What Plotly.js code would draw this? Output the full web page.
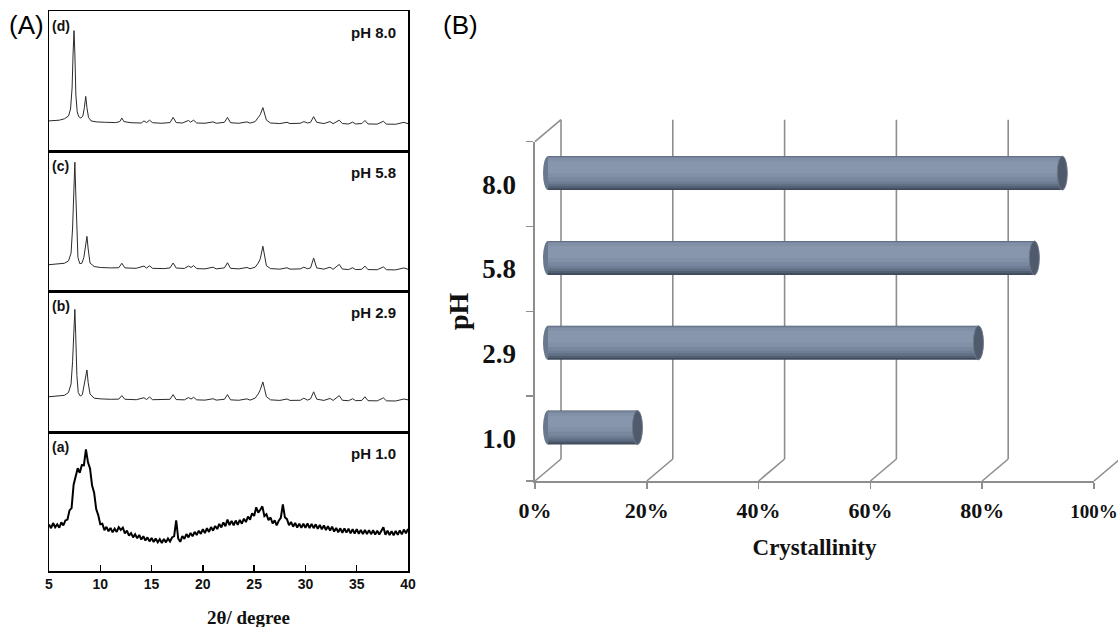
<!DOCTYPE html>
<html>
<head>
<meta charset="utf-8">
<script src="https://cdn.plot.ly/plotly-3.0.1.min.js"></script>
<style>
  html, body { margin: 0; padding: 0; background: #ffffff; overflow: hidden; }
  #chart { width: 1118px; height: 627px; }
</style>
</head>
<body>
<div id="chart"></div>
<script>
// ---------- Panel A: XRD patterns (2θ in degrees, intensity in arbitrary units) ----------
const twoThetaTicks = [5, 10, 15, 20, 25, 30, 35, 40];

// (d) pH 8.0
const theta_d = [5.0,5.5,6.0,6.5,6.9,7.1,7.25,7.35,7.44,7.52,7.62,7.75,7.9,8.1,8.3,8.45,8.58,8.7,8.85,9.1,9.6,10.5,11.5,11.9,12.1,12.3,13.0,14.0,14.26,14.5,14.8,15.1,16.0,16.8,17.1,17.4,18.0,18.6,18.8,19.1,19.4,20.2,21.0,21.3,22.1,22.4,22.7,23.5,24.3,24.6,25.1,25.4,25.6,25.85,26.0,26.2,26.6,27.5,28.2,28.5,29.5,29.85,30.2,30.5,30.8,31.1,31.8,32.4,32.7,33.3,33.6,34.2,34.6,34.9,35.5,35.8,36.1,37.0,37.6,37.9,38.8,39.6,40.0];
const int_d = [21.5,21.8,22,23,25,30,45,70,86,70,40,28,24.5,23.5,25,31,39,31,24,21.5,20.8,20.5,20.3,21,23.5,21,20.2,20,21.5,20.3,22,20.2,19.8,20.3,24,20.3,20,21.8,20.6,22,20,19.8,20.8,19.8,20.5,24,20.2,19.8,20.8,19.9,21,24,26,31,27,22,20,19.6,20.5,19.6,19.8,21,20,20.5,24.5,20.5,19.6,21,19.5,22,19.6,19.3,20.6,19.3,19.6,21.8,19.3,19.2,21.2,19.2,19.1,20.5,19.5];

// (c) pH 5.8
const theta_c = [5.0,5.5,6.0,6.5,6.9,7.15,7.3,7.42,7.52,7.6,7.7,7.82,8.0,8.2,8.4,8.58,8.7,8.82,9.0,9.4,10.0,11.0,11.8,12.1,12.4,13.5,14.26,14.5,14.8,15.1,16.2,16.8,17.1,17.4,18.2,18.6,18.85,19.1,19.4,20.2,21.0,21.3,22.1,22.4,22.7,23.5,24.3,24.6,25.1,25.4,25.6,25.85,26.0,26.2,26.6,27.5,28.2,28.5,29.5,29.85,30.2,30.5,30.8,31.1,31.8,32.4,32.7,33.3,33.6,34.2,34.6,34.9,35.5,35.8,36.1,37.0,37.6,37.9,38.8,39.6,40.0];
const int_c = [18.8,19,19.2,19.8,21.5,27,45,75,92,72,40,24,19.5,19.8,24,33,39,30,20,17.5,16.8,16.5,16.6,19.8,16.5,16.2,17.8,16.4,18,16.2,16,16.5,20,16.4,16.1,17.8,16.8,18.2,16,15.8,17,15.8,16.5,20.2,16.2,15.8,16.8,15.9,17,20,23,32,27,18,16,15.6,16.6,15.6,15.8,17,15.9,16.5,23.5,16.5,15.6,17,15.5,19,15.7,15.3,16.6,15.3,15.5,17.8,15.3,15.2,17.2,15.2,15.1,16.5,15.5];

// (b) pH 2.9
const theta_b = [5.0,5.5,6.0,6.5,6.9,7.15,7.3,7.42,7.52,7.6,7.72,7.85,8.05,8.25,8.42,8.6,8.7,8.82,9.0,9.4,10.0,11.0,11.8,12.1,12.4,13.5,14.26,14.5,14.8,15.1,16.2,16.8,17.1,17.4,18.2,18.6,18.85,19.1,19.4,20.2,21.0,21.3,22.1,22.4,22.7,23.5,24.3,24.6,25.1,25.4,25.6,25.85,26.0,26.2,26.6,27.5,28.2,28.5,29.5,29.85,30.2,30.5,30.8,31.1,31.8,32.4,32.7,33.3,33.6,34.2,34.6,34.9,35.5,35.8,36.1,37.0,37.6,37.9,38.8,39.6,40.0];
const int_b = [25,25.2,25.5,26,28,34,50,75,87,70,40,28,25.5,26.5,33,42,44,35,27,24,23.5,23.2,23.3,25.8,23.2,22.9,24.3,23,24.8,22.9,22.8,23.2,26.5,23,22.8,24.4,23.4,24.6,22.8,22.6,23.6,22.6,23.2,26.5,22.8,22.5,23.5,22.6,24,27,30,35.5,31,25,22.8,22.4,23.4,22.4,22.5,24,22.6,23.5,28.5,23.3,22.4,23.8,22.4,25.8,22.5,22.2,23.6,22.2,22.4,25,22.2,22.1,24.2,22.1,22,23.4,22.8];

// (a) pH 1.0 (broad, noisy scan)
const theta_a = [5.0,5.2,5.4,5.6,5.8,6.0,6.2,6.4,6.6,6.8,7.0,7.2,7.4,7.6,7.8,8.0,8.2,8.4,8.6,8.8,9.0,9.2,9.4,9.6,9.8,10.0,10.2,10.4,10.6,10.8,11.0,11.2,11.4,11.6,11.8,12.0,12.2,12.4,12.6,12.8,13.0,13.2,13.4,13.6,13.8,14.0,14.2,14.4,14.6,14.8,15.0,15.2,15.4,15.6,15.8,16.0,16.2,16.4,16.6,16.8,17.0,17.2,17.4,17.6,17.8,18.0,18.2,18.4,18.6,18.8,19.0,19.2,19.4,19.6,19.8,20.0,20.2,20.4,20.6,20.8,21.0,21.2,21.4,21.6,21.8,22.0,22.2,22.4,22.6,22.8,23.0,23.2,23.4,23.6,23.8,24.0,24.2,24.4,24.6,24.8,25.0,25.2,25.4,25.6,25.8,26.0,26.2,26.4,26.6,26.8,27.0,27.2,27.4,27.6,27.8,28.0,28.2,28.4,28.6,28.8,29.0,29.2,29.4,29.6,29.8,30.0,30.2,30.4,30.6,30.8,31.0,31.2,31.4,31.6,31.8,32.0,32.2,32.4,32.6,32.8,33.0,33.2,33.4,33.6,33.8,34.0,34.2,34.4,34.6,34.8,35.0,35.2,35.4,35.6,35.8,36.0,36.2,36.4,36.6,36.8,37.0,37.2,37.4,37.6,37.8,38.0,38.2,38.4,38.6,38.8,39.0,39.2,39.4,39.6,39.8,40.0];
const int_a = [33.4,30.8,34.5,31.5,33.6,31.1,35.0,32.8,36.4,37.0,43.6,45.2,62.1,68.0,73.9,70.6,76.2,76.0,87.5,78.2,73.8,61.4,56.3,44.5,40.2,33.6,34.0,29.4,31.8,28.6,31.0,27.8,30.4,28.1,31.5,29.6,31.2,27.0,29.1,25.4,27.3,24.2,26.4,23.5,25.9,22.6,25.0,21.9,24.2,21.3,23.8,20.9,23.4,20.6,22.9,20.2,23.0,20.6,23.4,21.2,24.1,25.0,36.5,23.2,21.0,25.2,23.1,26.6,24.2,27.4,25.0,28.2,25.9,29.0,26.7,30.1,27.3,30.8,28.1,31.6,29.0,32.4,30.2,33.9,31.3,35.0,32.2,37.0,33.0,36.1,32.9,36.3,33.2,36.8,34.0,37.6,35.2,39.2,37.0,41.5,39.6,45.8,42.0,44.1,46.5,39.5,40.8,36.6,38.5,34.2,36.4,32.8,36.2,38.2,48.0,38.6,37.3,32.9,35.3,31.9,34.6,31.3,34.1,31.0,34.0,31.1,34.2,30.9,33.9,30.8,33.6,30.3,33.1,30.0,32.8,29.5,32.3,29.1,31.9,28.4,31.0,27.9,30.7,27.5,30.6,27.6,30.4,27.1,30.0,27.0,30.1,26.8,29.6,26.5,29.5,26.6,29.4,26.5,29.3,26.2,29.0,26.3,29.2,31.5,26.0,29.0,25.9,28.6,25.7,28.9,26.0,29.2,26.4,29.8,27.2,30.2];

const panelLetters = ['(a)', '(b)', '(c)', '(d)'];
const panelPH = ['pH 1.0', 'pH 2.9', 'pH 5.8', 'pH 8.0'];

// ---------- Panel B: crystallinity vs pH ----------
const pHLabels = ['1.0', '2.9', '5.8', '8.0'];
const crystallinity = [16, 77, 87, 92];   // percent
const pctTicks = [0, 20, 40, 60, 80, 100];
// the last label sits at the right page edge, so it is set a little smaller to stay on the page
const pctTickText = ['0%', '20%', '40%', '60%', '80%', '<span style="font-size:19px">100%</span>'];

// ---------- page geometry (pixels) ----------
const W = 1118, H = 627;
const px = v => v / W;
const py = v => 1 - v / H;

// Panel A frame
const A_left = 49, A_right = 408;
const A_rows = [571, 432, 291, 151, 11];   // bottom of (a) ... top of (d)

// Panel B pseudo-3D box
const B_front0 = 535, B_front100 = 1094;   // 0% and 100% on the front floor edge
const B_floor = 481, B_top = 141.7;        // front floor and front top of the side wall
const B_dx = 26, B_dy = 22;                // depth offset of the back wall
const pxPerPct = (B_front100 - B_front0) / 100;
const midShift = 0.5;                      // bars sit half-way into the depth
const B_barPad = 10;                       // room for the rounded near end

const serif = 'Liberation Serif, Times New Roman, serif';
const sans = 'Liberation Sans, Arial, sans-serif';
const gridGray = '#8e8e8e';

const traces = [];

// XRD traces, one subplot per pattern
const patterns = [
  {x: theta_a, y: int_a, color: '#000000', width: 2.0},
  {x: theta_b, y: int_b, color: '#2a2a2a', width: 1.0},
  {x: theta_c, y: int_c, color: '#2a2a2a', width: 1.0},
  {x: theta_d, y: int_d, color: '#2a2a2a', width: 1.0}
];
patterns.forEach((p, i) => {
  const sfx = i === 0 ? '' : String(i + 1);
  traces.push({
    type: 'scatter', mode: 'lines', x: p.x, y: p.y,
    xaxis: 'x' + sfx, yaxis: 'y' + sfx,
    line: {color: p.color, width: p.width, shape: 'linear'},
    hoverinfo: 'skip', showlegend: false
  });
});

// invisible carrier so the front category axis of panel B gets its labels
traces.push({
  type: 'scatter', mode: 'markers', x: crystallinity, y: pHLabels,
  xaxis: 'x5', yaxis: 'y5', marker: {opacity: 0}, hoverinfo: 'skip', showlegend: false
});

// cylinder bars: stacked shading layers of the same value (dark underside to light top)
const barLayers = [
  {color: '#3f4a5b', lo: -0.200, hi: 0.200},
  {color: '#525e72', lo: -0.180, hi: 0.195},
  {color: '#627086', lo: -0.155, hi: 0.195},
  {color: '#6f7d94', lo: -0.125, hi: 0.192},
  {color: '#79879e', lo: -0.095, hi: 0.190},
  {color: '#8290a7', lo: -0.050, hi: 0.175},
  {color: '#8796ac', lo: 0.000, hi: 0.140}
];
barLayers.forEach(l => {
  traces.push({
    type: 'bar', orientation: 'h', x: crystallinity, y: pHLabels,
    xaxis: 'x7', yaxis: 'y7', width: l.hi - l.lo, offset: l.lo,
    marker: {color: l.color, line: {width: 0}},
    hoverinfo: 'skip', showlegend: false
  });
});

// ---------- shapes ----------
const shapes = [];
const lineStyle = {color: gridGray, width: 1.6};
pctTicks.forEach(t => {
  const fx = B_front0 + t * pxPerPct;
  // back-wall gridline
  shapes.push({type: 'line', xref: 'paper', yref: 'paper', layer: 'below',
    x0: px(fx + B_dx), x1: px(fx + B_dx), y0: py(B_floor - B_dy), y1: py(B_top - B_dy), line: lineStyle});
  // floor depth line
  shapes.push({type: 'line', xref: 'paper', yref: 'paper', layer: 'below',
    x0: px(fx), x1: px(fx + B_dx), y0: py(B_floor), y1: py(B_floor - B_dy), line: lineStyle});
});
// top edge of the side wall
shapes.push({type: 'line', xref: 'paper', yref: 'paper', layer: 'below',
  x0: px(B_front0), x1: px(B_front0 + B_dx), y0: py(B_top), y1: py(B_top - B_dy), line: lineStyle});

// rounded near ends and end faces of the cylinders
crystallinity.forEach((v, i) => {
  shapes.push({type: 'circle', xref: 'x7', yref: 'y7', xsizemode: 'pixel', xanchor: 0,
    x0: -5, x1: 5, y0: i - 0.2, y1: i + 0.2, layer: 'below',
    fillcolor: '#6a788e', line: {width: 0}});
  shapes.push({type: 'circle', xref: 'x7', yref: 'y7', xsizemode: 'pixel', xanchor: v,
    x0: -5, x1: 5, y0: i - 0.2, y1: i + 0.2, layer: 'above',
    fillcolor: '#4f5b6c', line: {color: '#6b7789', width: 1}});
});

// ---------- annotations ----------
const annotations = [];
panelLetters.forEach((t, i) => {
  const sfx = i === 0 ? '' : String(i + 1);
  annotations.push({text: '<b>' + t + '</b>', xref: 'x' + sfx + ' domain', yref: 'y' + sfx + ' domain',
    x: 0.004, y: 0.895, xanchor: 'left', yanchor: 'middle', showarrow: false,
    font: {family: sans, size: 14, color: '#111'}});
  annotations.push({text: '<b>' + panelPH[i] + '</b>', xref: 'x' + sfx + ' domain', yref: 'y' + sfx + ' domain',
    x: 0.972, y: 0.845, xanchor: 'right', yanchor: 'middle', showarrow: false,
    font: {family: sans, size: 15, color: '#111'}});
});
annotations.push({text: '(A)', xref: 'paper', yref: 'paper', x: px(7), y: py(25),
  xanchor: 'left', yanchor: 'middle', showarrow: false, font: {family: sans, size: 26, color: '#000'}});
annotations.push({text: '(B)', xref: 'paper', yref: 'paper', x: px(441), y: py(25),
  xanchor: 'left', yanchor: 'middle', showarrow: false, font: {family: sans, size: 26, color: '#000'}});
annotations.push({text: '<b>2θ/ degree</b>', xref: 'paper', yref: 'paper', x: px(248), y: py(617),
  xanchor: 'center', yanchor: 'middle', showarrow: false, font: {family: serif, size: 19, color: '#111'}});

// ---------- axes ----------
const layout = {
  width: W, height: H,
  margin: {l: 0, r: 0, t: 0, b: 0, pad: 0},
  paper_bgcolor: '#ffffff', plot_bgcolor: 'rgba(0,0,0,0)',
  barmode: 'overlay', showlegend: false,
  shapes: shapes, annotations: annotations
};

const frameAxis = {
  range: [5, 40], showline: true, linecolor: '#000', linewidth: 1.5, mirror: true,
  showgrid: false, zeroline: false
};
for (let i = 0; i < 4; i++) {
  const sfx = i === 0 ? '' : String(i + 1);
  const xa = Object.assign({}, frameAxis, {
    domain: [px(A_left), px(A_right)], anchor: 'y' + sfx
  });
  if (i === 0) {
    Object.assign(xa, {
      tickvals: twoThetaTicks, ticks: 'inside', ticklen: 6, tickwidth: 1.5, tickcolor: '#000',
      ticklabelstandoff: 0,
      tickfont: {family: sans, size: 14, color: '#111', weight: 'bold'}
    });
  } else {
    Object.assign(xa, {matches: 'x', ticks: '', showticklabels: false});
  }
  layout['xaxis' + sfx] = xa;
  layout['yaxis' + sfx] = {
    domain: [py(A_rows[i]), py(A_rows[i + 1])], anchor: 'x' + sfx, range: [0, 100],
    showline: true, linecolor: '#000', linewidth: 1.5, mirror: true,
    ticks: '', showticklabels: false, showgrid: false, zeroline: false
  };
}

// panel B: front floor axis with percent labels
layout.xaxis5 = {
  domain: [px(B_front0), px(B_front100)], anchor: 'y5', range: [0, 100],
  tickvals: pctTicks, ticktext: pctTickText, ticks: 'outside', ticklen: 6, tickwidth: 1.5, tickcolor: gridGray,
  showline: true, linecolor: gridGray, linewidth: 2, showgrid: false, zeroline: false,
  ticklabelstandoff: 3, ticklabeloverflow: 'allow',
  tickfont: {family: serif, size: 22, color: '#111', weight: 'bold'},
  title: {text: 'Crystallinity', standoff: 16, font: {family: serif, size: 23, color: '#111', weight: 'bold'}}
};
// panel B: front side-wall axis with pH categories
layout.yaxis5 = {
  domain: [py(B_floor), py(B_top)], anchor: 'x5', type: 'category',
  categoryorder: 'array', categoryarray: pHLabels, range: [-0.5, pHLabels.length - 0.5],
  tickson: 'boundaries', ticks: 'outside', ticklen: 7, tickwidth: 1.5, tickcolor: gridGray,
  showline: true, linecolor: gridGray, linewidth: 1.6, showgrid: false, zeroline: false,
  ticklabelstandoff: 12,
  tickfont: {family: serif, size: 27, color: '#111', weight: 'bold'},
  title: {text: 'pH', standoff: 5, font: {family: serif, size: 28, color: '#111', weight: 'bold'}}
};
// panel B: mid-depth plane that carries the cylinders
layout.xaxis7 = {
  domain: [px(B_front0 + B_dx * midShift - B_barPad), px(B_front100 + B_dx * midShift)],
  anchor: 'y7', range: [-B_barPad / pxPerPct, 100], visible: false
};
layout.yaxis7 = {
  domain: [py(B_floor - B_dy * midShift), py(B_top - B_dy * midShift)], anchor: 'x7',
  type: 'category', categoryorder: 'array', categoryarray: pHLabels,
  range: [-0.5, pHLabels.length - 0.5], visible: false
};

Plotly.newPlot('chart', traces, layout, {staticPlot: true, displayModeBar: false});
</script>
</body>
</html>
